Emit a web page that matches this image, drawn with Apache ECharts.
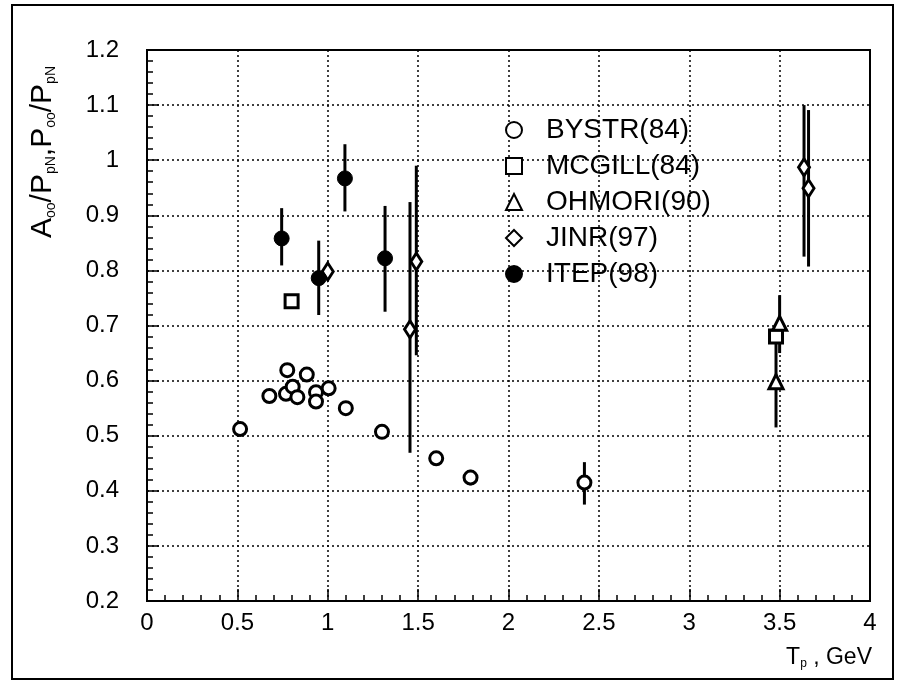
<!DOCTYPE html>
<html>
<head>
<meta charset="utf-8">
<script src="https://cdn.jsdelivr.net/npm/echarts@6/dist/echarts.min.js"></script>
<style>html,body{margin:0;padding:0;background:#fff}#c{width:908px;height:684px}</style>
</head>
<body>
<div id="c"></div>
<script>
// ---- data ----
const bystrX  = [0.515,0.677,0.776,0.769,0.806,0.832,0.884,0.935,0.935,1.005,1.10,1.30,1.60,1.79,2.42];
const bystrY  = [0.512,0.572,0.619,0.576,0.589,0.570,0.611,0.579,0.562,0.586,0.550,0.507,0.459,0.424,0.415];
const bystrLo = [0.512,0.572,0.619,0.576,0.589,0.570,0.611,0.579,0.562,0.586,0.550,0.507,0.446,0.410,0.375];
const bystrHi = [0.512,0.572,0.619,0.576,0.589,0.570,0.611,0.579,0.562,0.586,0.550,0.507,0.472,0.438,0.452];

const mcgillX = [0.80, 3.48];
const mcgillY = [0.744, 0.680];

const ohmoriX  = [3.48, 3.50];
const ohmoriY  = [0.598, 0.704];
const ohmoriLo = [0.515, 0.650];
const ohmoriHi = [0.690, 0.755];

const jinrX  = [1.00, 1.455, 1.49, 3.635, 3.66];
const jinrY  = [0.798, 0.693, 0.816, 0.987, 0.949];
const jinrLo = [0.798, 0.469, 0.646, 0.825, 0.807];
const jinrHi = [0.798, 0.924, 0.990, 1.100, 1.091];

const itepX  = [0.745, 0.95, 1.095, 1.317];
const itepY  = [0.858, 0.786, 0.967, 0.822];
const itepLo = [0.809, 0.719, 0.907, 0.725];
const itepHi = [0.913, 0.854, 1.029, 0.917];

const seriesNames = ['BYSTR(84)','MCGILL(84)','OHMORI(90)','JINR(97)','ITEP(98)'];
const xTicks = {min:0, max:4, interval:0.5};
const yTicks = {min:0.2, max:1.2, interval:0.1};

// ---- build ----
const FONT = '"Liberation Sans", Arial, sans-serif';
function pts(xs, ys){ return xs.map((x,i)=>[x, ys[i]]); }
function bars(xs, lo, hi){ return xs.map((x,i)=>[x, lo[i], hi[i]]).filter(d=>d[2]-d[1]>0.001); }

function errSeries(data){
  return {
    type:'custom', silent:true, z:3,
    data:data,
    encode:{x:0, y:[1,2]},
    renderItem:function(params, api){
      const x=api.value(0), lo=api.value(1), hi=api.value(2);
      const a=api.coord([x,lo]), b=api.coord([x,hi]);
      return {type:'line', shape:{x1:a[0],y1:a[1],x2:b[0],y2:b[1]},
              style:{stroke:'#000', lineWidth:3}};
    }
  };
}

const openStyle = {color:'#fff', borderColor:'#000', borderWidth:3, opacity:1};

const chart = echarts.init(document.getElementById('c'), null, {renderer:'canvas'});
chart.setOption({
  backgroundColor:'#fff',
  animation:false,
  grid:{left:147, top:50, width:723, height:551, show:true, borderColor:'#000', borderWidth:2, backgroundColor:'transparent'},
  xAxis:{
    type:'value', min:xTicks.min, max:xTicks.max, interval:xTicks.interval,
    axisLine:{show:true, onZero:false, lineStyle:{color:'#000', width:2}},
    axisTick:{show:true, inside:true, length:12, lineStyle:{color:'#000', width:1.5}},
    minorTick:{show:true, splitNumber:5, length:6, lineStyle:{color:'#000', width:1.5}},
    splitLine:{show:true, lineStyle:{color:'#000', width:1.5, type:[2,3]}},
    axisLabel:{color:'#000', fontSize:24, fontFamily:FONT, margin:10}
  },
  yAxis:{
    type:'value', min:yTicks.min, max:yTicks.max, interval:yTicks.interval,
    axisLine:{show:true, onZero:false, lineStyle:{color:'#000', width:2}},
    axisTick:{show:true, inside:true, length:12, lineStyle:{color:'#000', width:1.5}},
    minorTick:{show:true, splitNumber:5, length:6, lineStyle:{color:'#000', width:1.5}},
    splitLine:{show:true, lineStyle:{color:'#000', width:1.5, type:[2,3]}},
    axisLabel:{color:'#000', fontSize:24, fontFamily:FONT, margin:28}
  },
  legend:{
    orient:'vertical', left:500, top:110,
    data:seriesNames,
    itemWidth:16, itemHeight:16, itemGap:6,
    textStyle:{color:'#000', fontSize:28, fontFamily:FONT, lineHeight:30, padding:[0,0,0,19]},
    selectedMode:false
  },
  graphic:[
    {type:'rect', shape:{x:12, y:5, width:881, height:674}, style:{fill:'none', stroke:'#000', lineWidth:2}, silent:true},
    {type:'text', x:43, y:152, rotation:Math.PI/2, silent:true,
     style:{text:'A{s|oo}/P{s|pN},P{s|oo}/P{s|pN}', fill:'#000', font:'30px '+FONT, align:'center', verticalAlign:'middle',
            rich:{s:{fontSize:14, fontFamily:FONT, fill:'#000', verticalAlign:'bottom', padding:[10,0,0,0]}}}},
    {type:'text', x:872, y:658, silent:true,
     style:{text:'T{s|p} , GeV', fill:'#000', font:'23px '+FONT, align:'right', verticalAlign:'middle',
            rich:{s:{fontSize:12, fontFamily:FONT, fill:'#000', verticalAlign:'bottom', padding:[10,0,0,0]}}}}
  ],
  series:[
    errSeries(bars(bystrX, bystrLo, bystrHi)),
    errSeries(bars(ohmoriX, ohmoriLo, ohmoriHi)),
    errSeries(bars(jinrX, jinrLo, jinrHi)),
    errSeries(bars(itepX, itepLo, itepHi)),
    {name:seriesNames[0], type:'scatter', z:5, symbol:'circle', symbolSize:13, itemStyle:openStyle, data:pts(bystrX, bystrY)},
    {name:seriesNames[1], type:'scatter', z:5, symbol:'rect', symbolSize:13, itemStyle:openStyle, data:pts(mcgillX, mcgillY)},
    {name:seriesNames[2], type:'scatter', z:5, symbol:'triangle', symbolSize:14, itemStyle:openStyle, data:pts(ohmoriX, ohmoriY)},
    {name:seriesNames[3], type:'scatter', z:5, symbol:'diamond', symbolSize:[11,17], itemStyle:openStyle, data:pts(jinrX, jinrY)},
    {name:seriesNames[4], type:'scatter', z:5, symbol:'circle', symbolSize:15, itemStyle:{color:'#000', borderColor:'#000', borderWidth:1, opacity:1}, data:pts(itepX, itepY)}
  ]
});
</script>
</body>
</html>
